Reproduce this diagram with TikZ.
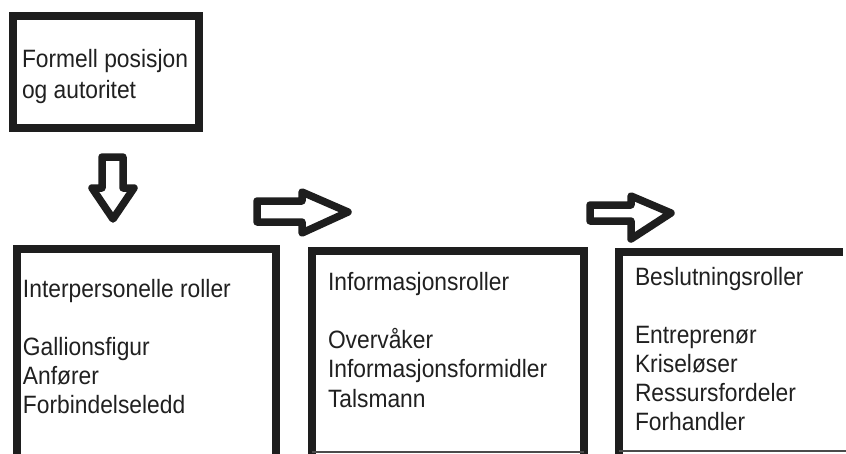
\documentclass[tikz,border=0pt]{standalone}
\usepackage{graphicx}
\usepackage{fontspec}
\setmainfont{Liberation Sans}
\definecolor{ink}{HTML}{1E1E1E}
\definecolor{txt}{HTML}{202020}
\newcommand{\tallt}[1]{\scalebox{1}[1.1]{#1}}
\tikzset{
  frame/.style={draw=ink, line width=8pt, line join=miter},
  thinedge/.style={draw=ink!80, line width=2pt},
  bigarrow/.style={draw=ink, line width=7.5pt, line join=round, fill=white},
  lbl/.style={anchor=base west, inner sep=0pt, outer sep=0pt, text=txt,
              font=\fontsize{22.8}{28}\selectfont},
}
\begin{document}
\begin{tikzpicture}[x=1pt, y=-1pt]
\useasboundingbox (0,0) rectangle (846,453);
\begin{scope}
\clip (0,0) rectangle (846,453);
% top box
\draw[frame] (13,16) rectangle (199,128);
\node[lbl] (t1) at (22,67) {\tallt{Formell posisjon}};
\node[lbl] (t2) at (22,98) {\tallt{og autoritet}};
% down arrow
\draw[bigarrow] (102,157) -- (123,157) -- (123,188) -- (134,188) -- (113,219)
  -- (92,188) -- (102,188) -- cycle;
% right arrows
\draw[bigarrow] (257,201) -- (302,201) -- (302,192) -- (348,212) -- (302,233)
  -- (302,222) -- (257,222) -- cycle;
\draw[bigarrow] (590,205) -- (631,205) -- (631,196) -- (671,213) -- (631,239)
  -- (631,221) -- (590,221) -- cycle;
% box 1
\draw[frame] (17,480) -- (17,249) -- (276,249) -- (276,480);
\node[lbl] (a1) at (23,297) {\tallt{Interpersonelle roller}};
\node[lbl] (a2) at (23,355) {\tallt{Gallionsfigur}};
\node[lbl] (a3) at (23,384) {\tallt{Anfører}};
\node[lbl] (a4) at (23,413) {\tallt{Forbindelseledd}};
% box 2
\draw[frame] (312,480) -- (312,251) -- (584,251) -- (584,480);
\draw[thinedge] (312,451.5) -- (584,451.5);
\node[lbl] (b1) at (328,290) {\tallt{Informasjonsroller}};
\node[lbl] (b2) at (328,348) {\tallt{Overvåker}};
\node[lbl] (b3) at (328,377) {\tallt{Informasjonsformidler}};
\node[lbl] (b4) at (328,407) {\tallt{Talsmann}};
% box 3
\draw[frame] (619,480) -- (619,252) -- (843,252);
\draw[thinedge] (619,451) -- (846,451);
\node[lbl] (c1) at (635,285) {\tallt{Beslutningsroller}};
\node[lbl] (c2) at (635,343) {\tallt{Entreprenør}};
\node[lbl] (c3) at (635,372) {\tallt{Kriseløser}};
\node[lbl] (c4) at (635,401) {\tallt{Ressursfordeler}};
\node[lbl] (c5) at (635,430) {\tallt{Forhandler}};
\end{scope}
\end{tikzpicture}
\end{document}
